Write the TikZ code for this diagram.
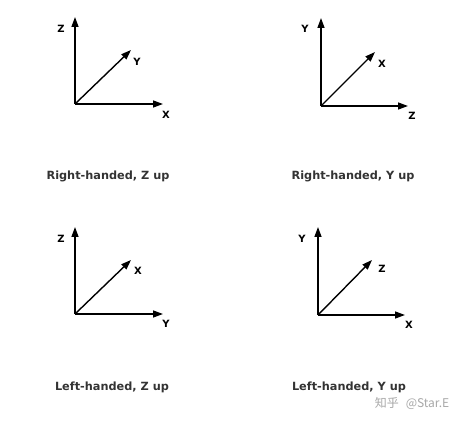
\documentclass[tikz,border=0pt]{standalone}
\usepackage{fontspec}
\setmainfont{DejaVu Sans}
\newfontfamily\cjk{Noto Sans CJK SC}
\usetikzlibrary{arrows.meta}
\definecolor{captxt}{HTML}{333333}
\definecolor{wmark}{HTML}{A8A8A8}
\tikzset{
  axis/.style={line width=1.4pt,-{Triangle[length=10pt,width=7pt]}},
  axlabel/.style={font=\bfseries\fontsize{10}{10}\selectfont,inner sep=0pt},
  caption/.style={font=\bfseries\fontsize{11.3}{13}\selectfont,text=captxt,inner sep=0pt},
}
\begin{document}
\begin{tikzpicture}[x=1pt,y=-1pt]
\useasboundingbox[fill=white] (0,0) rectangle (466,422);
% Panel 1: Right-handed, Z up
\coordinate (o1) at (75,104);
\coordinate (u1) at (75,17);
\coordinate (r1) at (163,104);
\coordinate (d1) at (131,50);
\draw[axis] (o1) -- (u1);
\draw[axis] (o1) -- (r1);
\draw[axis] (o1) -- (d1);
\node[axlabel] (l1u) at (61,29) {Z};
\node[axlabel] (l1d) at (137,62) {Y};
\node[axlabel] (l1r) at (166,115) {X};
\node[caption] (c1) at (108,176) {Right-handed, Z up};
% Panel 2: Right-handed, Y up
\coordinate (o2) at (321,106);
\coordinate (u2) at (321,18);
\coordinate (r2) at (408,106);
\coordinate (d2) at (375,52);
\draw[axis] (o2) -- (u2);
\draw[axis] (o2) -- (r2);
\draw[axis] (o2) -- (d2);
\node[axlabel] (l2u) at (305,29) {Y};
\node[axlabel] (l2d) at (382,64) {X};
\node[axlabel] (l2r) at (412,116) {Z};
\node[caption] (c2) at (353,176) {Right-handed, Y up};
% Panel 3: Left-handed, Z up
\coordinate (o3) at (75,314);
\coordinate (u3) at (75,227);
\coordinate (r3) at (163,314);
\coordinate (d3) at (131,260);
\draw[axis] (o3) -- (u3);
\draw[axis] (o3) -- (r3);
\draw[axis] (o3) -- (d3);
\node[axlabel] (l3u) at (61,239) {Z};
\node[axlabel] (l3d) at (138,271) {X};
\node[axlabel] (l3r) at (166,324) {Y};
\node[caption] (c3) at (112,387) {Left-handed, Z up};
% Panel 4: Left-handed, Y up
\coordinate (o4) at (318,315);
\coordinate (u4) at (318,227);
\coordinate (r4) at (405,315);
\coordinate (d4) at (372,260);
\draw[axis] (o4) -- (u4);
\draw[axis] (o4) -- (r4);
\draw[axis] (o4) -- (d4);
\node[axlabel] (l4u) at (302,239) {Y};
\node[axlabel] (l4d) at (382,269) {Z};
\node[axlabel] (l4r) at (409,325) {X};
\node[caption] (c4) at (349,387) {Left-handed, Y up};
% watermark
\node[inner sep=0pt,text=wmark,font=\cjk\fontsize{12}{13}\selectfont] (wm) at (412,403) {知乎\hspace{7pt}@Star.E};
\end{tikzpicture}
\end{document}
